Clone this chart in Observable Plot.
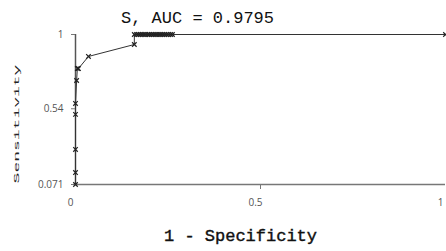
<!DOCTYPE html>
<html>
<head>
<meta charset="utf-8">
<script src="https://cdn.jsdelivr.net/npm/d3@7"></script>
<script src="https://cdn.jsdelivr.net/npm/@observablehq/plot@0.6"></script>
<style>
  body { margin: 0; background: #fff; }
  #wrap { position: relative; width: 446px; height: 251px; overflow: hidden; }
  .lbl { position: absolute; font-family: "Liberation Mono", monospace; color: #111; white-space: nowrap; }
  #ylab { position: absolute; left: 17px; top: 124px; font-family: "Liberation Mono", monospace; font-size: 18px; color: #222;
          transform: translate(-50%, -50%) rotate(-90deg) scaleY(0.35); white-space: nowrap; }
</style>
</head>
<body>
<div id="wrap"></div>
<script>
const titleText = "S, AUC = 0.9795";
const xLabel = "1 - Specificity";
const yLabel = "Sensitivity";
const fpr = [0, 0, 0, 0, 0, 0.003, 0.005, 0.008, 0.035, 0.159, 0.159,
  0.165, 0.17, 0.175, 0.18, 0.185, 0.19, 0.196, 0.2, 0.205, 0.21, 0.215,
  0.22, 0.226, 0.231, 0.236, 0.241, 0.246, 0.251, 0.257, 0.262, 1];
const tpr = [0.071, 0.145, 0.288, 0.505, 0.573, 0.715, 0.789, 0.789, 0.864, 0.938, 1,
  1, 1, 1, 1, 1, 1, 1, 1, 1, 1, 1,
  1, 1, 1, 1, 1, 1, 1, 1, 1, 1];
const xTicks = [0, 0.5, 1];
const yTicks = [0.071, 0.54, 1];

const pts = fpr.map((x, i) => ({x, y: tpr[i]}));

const chart = Plot.plot({
  width: 446,
  height: 251,
  marginLeft: 75,
  marginRight: 1,
  marginTop: 34,
  marginBottom: 67,
  x: {domain: [0, 1]},
  y: {domain: [0.071, 1]},
  style: {fontFamily: "Open Sans, sans-serif", fontSize: "10px", color: "#555", background: "#fff"},
  marks: [
    Plot.ruleY([0.071], {stroke: "#777", strokeWidth: 1.5}),
    Plot.ruleX([0], {stroke: "#555", strokeWidth: 1.5}),
    Plot.axisX({ticks: [0.5], tickSize: 5, tickFormat: () => "", label: null, stroke: "#777"}),
    Plot.axisX({ticks: xTicks, tickFormat: d => String(d), tickSize: 0, tickPadding: 14, dx: -5, label: null, fill: "#555"}),
    Plot.axisY({ticks: yTicks, tickFormat: d => String(d), tickSize: 4, tickPadding: 8, label: null, stroke: "#777", fill: "#555"}),
    Plot.line(pts, {x: "x", y: "y", stroke: "#333", strokeWidth: 1}),
    Plot.dot(pts, {x: "x", y: "y", symbol: "times", r: 2.2, stroke: "#222", strokeWidth: 1.2})
  ]
});

const wrap = document.getElementById("wrap");
wrap.appendChild(chart);
chart.style.position = "absolute";
chart.style.left = "0";
chart.style.top = "0";

const t = document.createElement("div");
t.className = "lbl";
t.textContent = titleText;
t.style.left = "121px";
t.style.top = "9px";
t.style.fontSize = "17px";
wrap.appendChild(t);

const xl = document.createElement("div");
xl.className = "lbl";
xl.textContent = xLabel;
xl.style.left = "164px";
xl.style.top = "227px";
xl.style.fontSize = "17px";
xl.style.webkitTextStroke = "0.4px #111";
wrap.appendChild(xl);

const yl = document.createElement("div");
yl.id = "ylab";
yl.textContent = yLabel;
wrap.appendChild(yl);
</script>
</body>
</html>
